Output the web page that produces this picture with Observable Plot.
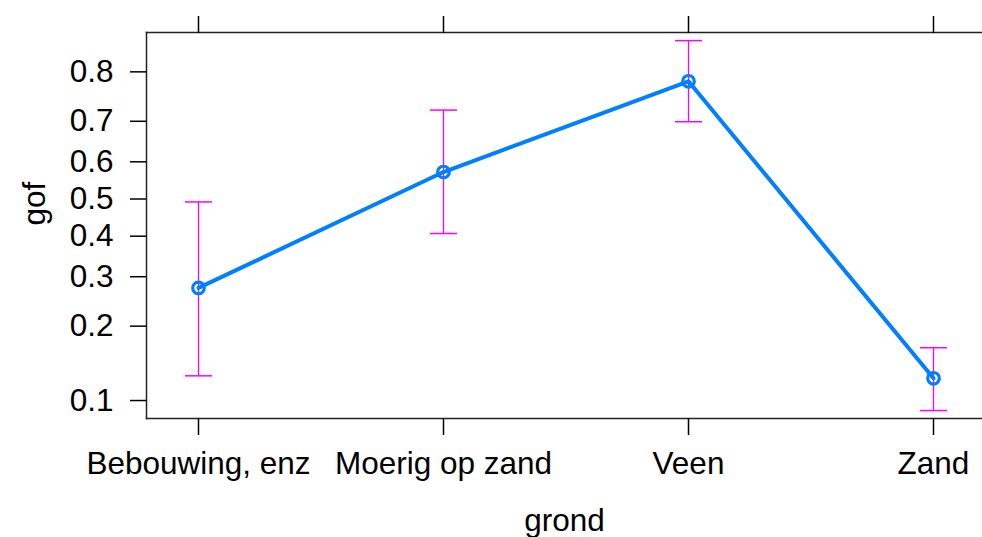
<!DOCTYPE html>
<html>
<head>
<meta charset="utf-8">
<script src="https://cdn.jsdelivr.net/npm/d3@7"></script>
<script src="https://cdn.jsdelivr.net/npm/@observablehq/plot@0.6"></script>
<style>
  html, body { margin: 0; padding: 0; background: #fff; overflow: hidden; }
</style>
</head>
<body>
<div id="chart"></div>
<script>
// Effect of soil type (grond) on goodness of fit, with confidence limits
const categories = ["Bebouwing, enz", "Moerig op zand", "Veen", "Zand"];
const gof = [0.275, 0.573, 0.783, 0.124];
const lower = [0.127, 0.407, 0.699, 0.0906];
const upper = [0.492, 0.725, 0.849, 0.165];
const yTicks = [0.1, 0.2, 0.3, 0.4, 0.5, 0.6, 0.7, 0.8];

const table = categories.map((grond, i) => ({grond, gof: gof[i], lower: lower[i], upper: upper[i]}));

// response axis on the logit scale
const logit = (p) => Math.log(p / (1 - p));
const expit = (z) => 1 / (1 + Math.exp(-z));

const blue = "#0080ff";
const magenta = "#ff00ff";

// horizontal whisker cap used at the ends of each interval
const cap = {
  draw(context) {
    context.moveTo(-13.5, 0);
    context.lineTo(13.5, 0);
  }
};

const fmt = d3.format(".1f");

const chart = Plot.plot({
  width: 982,
  height: 537,
  marginLeft: 146,
  marginRight: 0,
  marginTop: 32,
  marginBottom: 119,
  style: {fontFamily: "'Liberation Sans', Arial, sans-serif", fontSize: "31.5px", color: "#000", background: "#fff"},
  x: {type: "point", domain: categories, range: [146, 985], padding: 0.21},
  y: {transform: logit, domain: [logit(0.0837), logit(0.86)]},
  marks: [
    Plot.frame({anchor: "top", stroke: "#222", strokeWidth: 1.5}),
    Plot.frame({anchor: "left", stroke: "#222", strokeWidth: 1.5}),
    Plot.frame({anchor: "bottom", stroke: "#222", strokeWidth: 1.5}),
    Plot.axisX({anchor: "top", tickSize: 17, tickFormat: () => "", label: null, strokeWidth: 1.5}),
    Plot.axisX({anchor: "bottom", tickSize: 17, tickPadding: 16, label: null, strokeWidth: 1.5}),
    // tick positions live in the transformed (logit) space of the y scale
    Plot.axisY({anchor: "left", ticks: yTicks.map(logit), tickSize: 16, tickPadding: 17, tickFormat: (z) => fmt(expit(z)), label: null, strokeWidth: 1.5}),
    Plot.text(["grond"], {frameAnchor: "bottom", dy: 102, lineAnchor: "middle"}),
    Plot.text(["gof"], {frameAnchor: "left", dx: -112, rotate: -90, lineAnchor: "middle"}),
    // confidence intervals
    Plot.ruleX(table, {x: "grond", y1: "lower", y2: "upper", stroke: magenta, strokeWidth: 1.3}),
    Plot.dot(table, {x: "grond", y: "lower", symbol: cap, stroke: magenta, strokeWidth: 1.5, fill: "none"}),
    Plot.dot(table, {x: "grond", y: "upper", symbol: cap, stroke: magenta, strokeWidth: 1.5, fill: "none"}),
    // fitted values
    Plot.line(table, {x: "grond", y: "gof", stroke: blue, strokeWidth: 4}),
    Plot.dot(table, {x: "grond", y: "gof", r: 5.8, stroke: blue, strokeWidth: 3.2, fill: "none"})
  ]
});

document.getElementById("chart").append(chart);
</script>
</body>
</html>
